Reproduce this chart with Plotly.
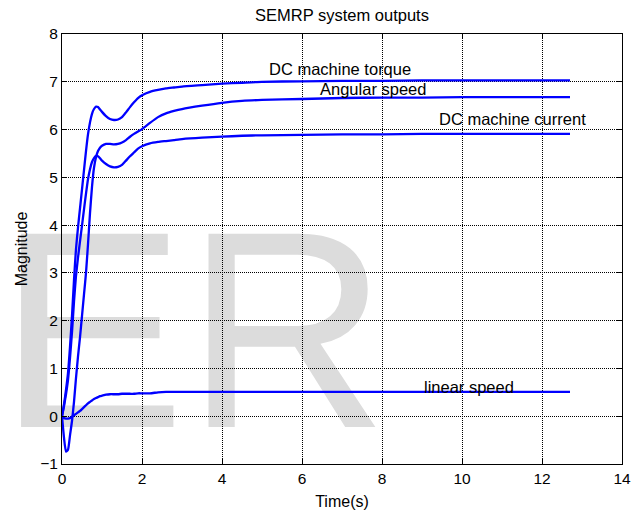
import plotly.graph_objects as go

# Simulation time base (s)
time_s = [0, 0.05, 0.1, 0.15, 0.2, 0.25, 0.3, 0.35, 0.4, 0.45, 0.5, 0.55, 0.6, 0.65,
          0.7, 0.75, 0.8, 0.85, 0.9, 0.95, 1.0, 1.1, 1.2, 1.3, 1.4, 1.5, 1.6, 1.7,
          1.8, 1.9, 2.0, 2.2, 2.4, 2.6, 2.8, 3.0, 3.5, 4.0, 4.5, 5.0, 6.0, 7.0, 8.0,
          9.0, 10.0, 11.0, 12.0, 12.7]

# System outputs
dc_torque = [0, 0.25, 0.55, 0.9, 1.45, 2.1, 2.85, 3.5, 3.95, 4.35, 4.75, 5.15, 5.55, 5.9,
             6.15, 6.33, 6.43, 6.48, 6.47, 6.42, 6.37, 6.28, 6.22, 6.2, 6.21, 6.26, 6.36, 6.47,
             6.57, 6.66, 6.72, 6.79, 6.83, 6.86, 6.88, 6.9, 6.93, 6.96, 6.98, 7.0, 7.01, 7.02, 7.02,
             7.03, 7.03, 7.03, 7.03, 7.03]

dc_current = [0, 0.21, 0.46, 0.76, 1.22, 1.76, 2.4, 2.94, 3.32, 3.66, 3.99, 4.33, 4.66, 4.96,
              5.17, 5.32, 5.4, 5.45, 5.44, 5.4, 5.35, 5.28, 5.23, 5.21, 5.22, 5.26, 5.35, 5.44,
              5.52, 5.6, 5.65, 5.71, 5.74, 5.76, 5.78, 5.8, 5.83, 5.85, 5.87, 5.88, 5.89, 5.9, 5.9,
              5.91, 5.91, 5.91, 5.91, 5.91]

angular_speed = [0, -0.45, -0.74, -0.7, -0.4, -0.1, 0.3, 0.8, 1.25, 1.65, 2.1, 2.55, 3.0, 3.6,
                 4.25, 4.8, 5.2, 5.42, 5.55, 5.62, 5.66, 5.7, 5.7, 5.69, 5.7, 5.73, 5.78, 5.85,
                 5.91, 5.96, 6.01, 6.14, 6.26, 6.34, 6.39, 6.43, 6.5, 6.56, 6.6, 6.62, 6.64, 6.66, 6.67,
                 6.67, 6.68, 6.68, 6.68, 6.68]

linear_speed = [0, -0.04, -0.05, -0.05, -0.04, -0.01, 0.02, 0.05, 0.08, 0.11, 0.15, 0.19, 0.23, 0.27,
                0.3, 0.33, 0.36, 0.38, 0.4, 0.42, 0.43, 0.45, 0.46, 0.46, 0.46, 0.47, 0.47, 0.47,
                0.47, 0.48, 0.48, 0.48, 0.5, 0.51, 0.51, 0.51, 0.51, 0.51, 0.51, 0.51, 0.51, 0.51, 0.51,
                0.51, 0.51, 0.51, 0.51, 0.51]

series = [dc_torque, angular_speed, dc_current, linear_speed]

# Curve labels: text, x, y (data coordinates)
label_text = ["DC machine torque", "Angular speed", "DC machine current", "linear speed"]
label_x = [5.12, 6.4, 9.375, 8.99]
label_y = [7.27, 6.85, 6.23, 0.62]

x_ticks = [0, 2, 4, 6, 8, 10, 12, 14]
y_ticks = [-1, 0, 1, 2, 3, 4, 5, 6, 7, 8]

FONT = "Liberation Sans, Arial, Helvetica, sans-serif"
BLUE = "#0000ff"

fig = go.Figure()
for values in series:
    fig.add_trace(go.Scatter(
        x=time_s, y=values, mode="lines",
        line=dict(color=BLUE, width=2.3, shape="spline", smoothing=0.5),
        showlegend=False, hoverinfo="skip",
    ))

for txt, lx, ly in zip(label_text, label_x, label_y):
    fig.add_annotation(x=lx, y=ly, xref="x", yref="y", text=txt, showarrow=False,
                       xanchor="left", yanchor="middle",
                       font=dict(family=FONT, size=16.5, color="black"))

axis_common = dict(
    showline=True, linecolor="black", linewidth=1, mirror="ticks",
    ticks="inside", ticklen=5, tickcolor="black", tickwidth=1,
    showgrid=True, gridcolor="black", gridwidth=1, griddash="1px,1px",
    zeroline=False, tickfont=dict(family=FONT, size=15.5, color="black"),
    automargin=False,
)

fig.update_xaxes(range=[0, 14], tickvals=x_ticks,
                 title=dict(text="Time(s)", font=dict(family=FONT, size=16, color="black"), standoff=10),
                 **axis_common)
fig.update_yaxes(range=[-1, 8], tickvals=y_ticks,
                 title=dict(text="Magnitude", font=dict(family=FONT, size=16, color="black"), standoff=8),
                 **axis_common)

# Large light-grey "ER" mark behind the grid
fig.add_shape(type="rect", xref="paper", yref="paper",
              x0=-0.1196, x1=0.6036, y0=0.0093, y1=0.656,
              line=dict(width=0), fillcolor="rgba(0,0,0,0)", layer="below",
              label=dict(text="ER", textposition="bottom left", padding=0,
                         font=dict(family=FONT, size=281, color="#dcdcdc")))

fig.update_layout(
    width=642, height=510, autosize=False,
    margin=dict(l=62, r=20, t=34, b=46),
    paper_bgcolor="white", plot_bgcolor="white",
    title=dict(text="SEMRP system outputs", x=0.5, xref="paper", xanchor="center",
               y=1 - 15 / 510, yref="container", yanchor="middle",
               font=dict(family=FONT, size=16.5, color="black")),
    showlegend=False,
)

fig.write_html("out.html")
